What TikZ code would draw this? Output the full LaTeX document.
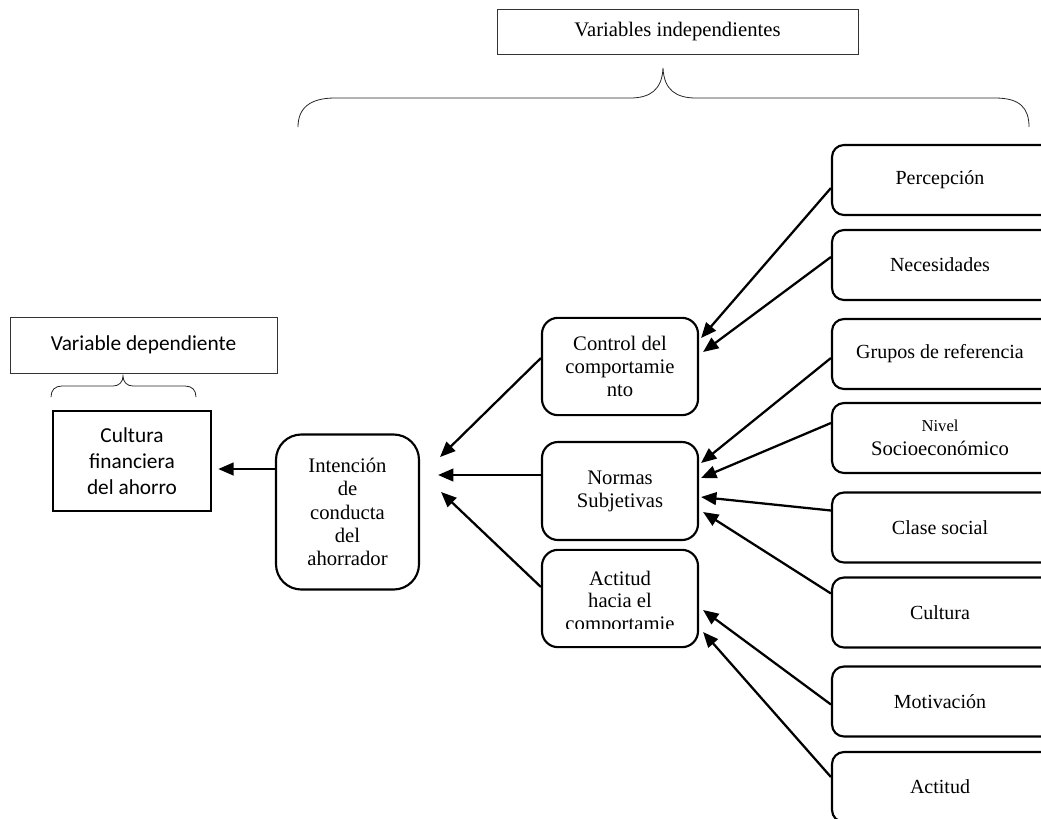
\documentclass[tikz,border=0pt]{standalone}
\usepackage{fontspec}
\setmainfont{Liberation Serif}
\newfontfamily\calfont{Carlito}
\usetikzlibrary{arrows.meta,calc}
\begin{document}
\begin{tikzpicture}[x=0.75pt,y=-0.75pt,
 rbox/.style={draw,line width=1.6pt,rounded corners=9pt,minimum width=180pt,minimum height=52.5pt,inner sep=0pt,align=center,font=\fontsize{15}{18}\selectfont,execute at begin node={\hspace*{-18pt}}},
 mbox/.style={draw,line width=1.6pt,rounded corners=12pt,minimum width=117pt,minimum height=73pt,inner sep=0pt,align=center,font=\fontsize{15.5}{17.2}\selectfont},
 lbl/.style={draw=black!80,line width=0.6pt,inner sep=0pt,align=center},
 arr/.style={line width=1.7pt,-{Triangle[length=11.5pt,width=9.5pt]}},
 bracestyle/.style={line width=0.6pt,draw=black!85}]
\clip (0,0) rectangle (1041,818);
\fill[white] (0,0) rectangle (1041,818);

% labels
\node[lbl,minimum width=270.75pt,minimum height=33.75pt,font=\fontsize{15.5}{18}\selectfont] (vi) at (677.5,31.5) {Variables independientes};
\node[lbl,minimum width=200.25pt,minimum height=42pt,font=\calfont\fontsize{16}{19}\selectfont] (vd) at (143.5,345) {Variable dependiente};

% braces
\draw[bracestyle] (298,127) .. controls (298,108) and (310,98) .. (335,98) -- (630,98)
  .. controls (650,98) and (662,90) .. (663,68)
  .. controls (664,90) and (676,98) .. (696,98) -- (995,98)
  .. controls (1020,98) and (1029,108) .. (1029,127);
\draw[bracestyle] (51,397) .. controls (51,390) and (55,386) .. (62,386) -- (113,386)
  .. controls (119,386) and (123,382) .. (123,376)
  .. controls (123,382) and (127,386) .. (133,386) -- (185,386)
  .. controls (192,386) and (196,390) .. (196,397);

% dependent variable
\node[draw,line width=1.9pt,minimum width=118.5pt,minimum height=75pt,inner sep=0pt,align=center,font=\calfont\fontsize{16}{19.5}\selectfont] (cult) at (132,461) {Cultura\\financiera\\del ahorro};

% intention
\node[draw,line width=1.6pt,rounded corners=19pt,minimum width=107.25pt,minimum height=116.25pt,inner sep=0pt,align=center,font=\fontsize{15.5}{17.4}\selectfont] (int) at (347.5,512) {Intención\\de\\conducta\\del\\ahorrador};

% middle boxes
\node[mbox] (ctrl) at (620,366.5) {Control del\\comportamie\\nto};
\node[mbox,minimum height=73.5pt] (norm) at (620,491) {Normas\\Subjetivas};
\node[mbox] (acth) at (620,598.5) {};
\begin{scope}
\clip (545,553) rectangle (695,628.5);
\node[align=center,font=\fontsize{15.5}{17.2}\selectfont,inner sep=0pt] (achtxt) at (620,603) {Actitud\\hacia el\\comportamie};
\end{scope}

% right boxes
\node[rbox] (perc) at (952,180) {Percepción};
\node[rbox] (nece) at (952,265) {Necesidades};
\node[rbox] (grup) at (952,354) {Grupos de referencia};
\node[rbox,font=\fontsize{15.5}{18}\selectfont] (nive) at (952,438) {{\fontsize{12.5}{18}\selectfont Nivel}\\Socioeconómico};
\node[rbox] (clas) at (952,527.5) {Clase social};
\node[rbox] (cltr) at (952,612.5) {Cultura};
\node[rbox] (moti) at (952,701.5) {Motivación};
\node[rbox] (acti) at (952,787) {Actitud};

% arrows right -> middle
\draw[arr] ($(perc.west)+(0,8)$) -- ($(ctrl.east)+(2,-28.5)$);
\draw[arr] ($(nece.west)+(0,-8)$) -- ($(ctrl.east)+(4,-14.5)$);
\draw[arr] ($(grup.west)+(0,4)$) -- ($(norm.east)+(2,-28)$);
\draw[arr] ($(nive.west)+(0,-15)$) -- ($(norm.east)+(2,-13)$);
\draw[arr] ($(clas.west)+(0,-17)$) -- ($(norm.east)+(2,6)$);
\draw[arr] ($(cltr.west)+(0,-19)$) -- ($(norm.east)+(4,21)$);
\draw[arr] ($(moti.west)+(0,3)$) -- ($(acth.east)+(4,11.5)$);
\draw[arr] ($(acti.west)+(0,-10)$) -- ($(acth.east)+(4,33.5)$);

% arrows middle -> intention
\draw[arr] ($(ctrl.west)+(0,-8.5)$) -- ($(int.east)+(20,-55)$);
\draw[arr] ($(norm.west)+(0,-16)$) -- ($(int.east)+(18,-37)$);
\draw[arr] ($(acth.west)+(0,-11.5)$) -- ($(int.east)+(21,-20)$);

% intention -> culture
\draw[arr] ($(int.west)+(0,-43)$) -- ($(cult.east)+(6,8)$);
\end{tikzpicture}
\end{document}
